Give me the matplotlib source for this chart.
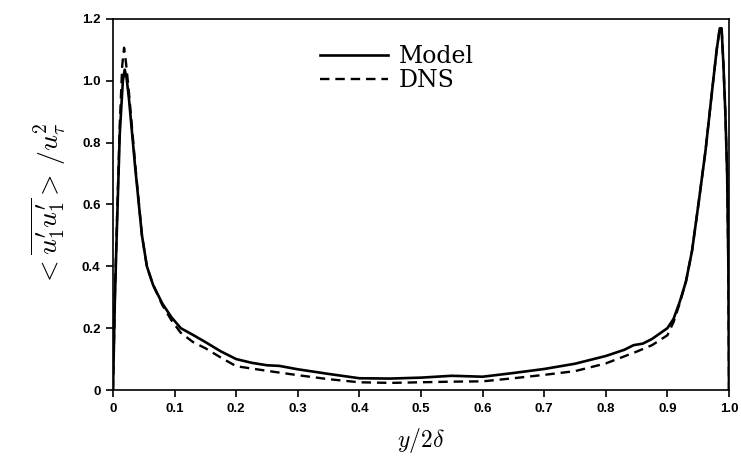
import matplotlib
matplotlib.use('Agg')
import matplotlib.pyplot as plt
from matplotlib.ticker import FuncFormatter

# Wall-normal position y/2delta
x_model = [0.0, 0.003, 0.006, 0.011, 0.016, 0.019, 0.022, 0.026, 0.036, 0.047, 0.055, 0.065,
           0.08, 0.095, 0.11, 0.13, 0.15, 0.175, 0.2, 0.225, 0.25, 0.27, 0.3,
           0.35, 0.4, 0.45, 0.5, 0.55, 0.6, 0.65, 0.7, 0.75, 0.8, 0.83, 0.845,
           0.86, 0.875, 0.9, 0.91, 0.92, 0.93, 0.94, 0.951, 0.962, 0.971, 0.98,
           0.985, 0.988, 0.991, 0.994, 0.997, 0.999, 1.0]
model = [0.0, 0.29, 0.5, 0.83, 1.0, 1.036, 1.01, 0.94, 0.72, 0.5, 0.4, 0.34,
         0.28, 0.235, 0.2, 0.178, 0.155, 0.125, 0.10, 0.088, 0.08, 0.078, 0.067,
         0.052, 0.038, 0.037, 0.04, 0.046, 0.043, 0.055, 0.068, 0.085, 0.11, 0.13, 0.145,
         0.15, 0.165, 0.2, 0.23, 0.285, 0.35, 0.45, 0.61, 0.776, 0.94, 1.1,
         1.17, 1.17, 1.05, 0.9, 0.7, 0.4, 0.0]

x_dns = [0.0, 0.003, 0.006, 0.011, 0.015, 0.018, 0.021, 0.026, 0.036, 0.047, 0.055, 0.065,
         0.08, 0.095, 0.11, 0.13, 0.15, 0.175, 0.2, 0.25, 0.3, 0.35, 0.4,
         0.45, 0.5, 0.55, 0.6, 0.65, 0.7, 0.75, 0.8, 0.85, 0.875, 0.9, 0.91,
         0.92, 0.93, 0.94, 0.951, 0.962, 0.971, 0.98, 0.985, 0.988, 0.991,
         0.994, 0.997, 0.999, 1.0]
dns = [0.0, 0.3, 0.52, 0.86, 1.05, 1.107, 1.06, 0.96, 0.73, 0.5, 0.4, 0.34,
       0.275, 0.225, 0.185, 0.155, 0.135, 0.105, 0.077, 0.062, 0.048, 0.035, 0.025,
       0.023, 0.025, 0.027, 0.028, 0.038, 0.049, 0.061, 0.086, 0.124, 0.145, 0.177, 0.22,
       0.28, 0.35, 0.45, 0.61, 0.776, 0.94, 1.1, 1.17, 1.17, 1.05,
       0.9, 0.7, 0.4, 0.0]

xticks = [0, 0.1, 0.2, 0.3, 0.4, 0.5, 0.6, 0.7, 0.8, 0.9, 1.0]
yticks = [0, 0.2, 0.4, 0.6, 0.8, 1.0, 1.2]

plt.rcParams['mathtext.fontset'] = 'cm'

fig = plt.figure(figsize=(7.41, 4.61), dpi=100)
ax = fig.add_axes([0.1525, 0.154, 0.8313, 0.8048])

ax.plot(x_model, model, color='black', lw=1.9, label='Model')
ax.plot(x_dns, dns, color='black', lw=1.7, ls=(0, (4, 2.5)), label='DNS')

ax.set_xlim(0, 1.0)
ax.set_ylim(0, 1.2)
ax.set_xticks(xticks)
ax.set_yticks(yticks)

fmt = FuncFormatter(lambda v, p: '0' if v == 0 else f'{v:.1f}')
ax.xaxis.set_major_formatter(fmt)
ax.yaxis.set_major_formatter(fmt)
ax.tick_params(direction='out', length=5, width=1.2, labelsize=9.5, pad=4)
for lab in ax.get_xticklabels() + ax.get_yticklabels():
    lab.set_fontweight('bold')
    lab.set_family('Liberation Sans')
for s in ax.spines.values():
    s.set_linewidth(1.2)

ax.set_xlabel(r'$y/2\delta$', fontsize=17, labelpad=8)
ax.set_ylabel(r"$<\overline{u_1^{\prime} u_1^{\prime}}>\,/u_\tau^2$", fontsize=20, labelpad=10)

leg = ax.legend(loc='upper left', bbox_to_anchor=(0.336, 0.93), frameon=False,
                borderpad=0, borderaxespad=0,
                handlelength=2.9, handletextpad=0.45, labelspacing=0.05,
                prop={'family': 'DejaVu Serif', 'size': 17})

fig.savefig('out.png', dpi=100)
